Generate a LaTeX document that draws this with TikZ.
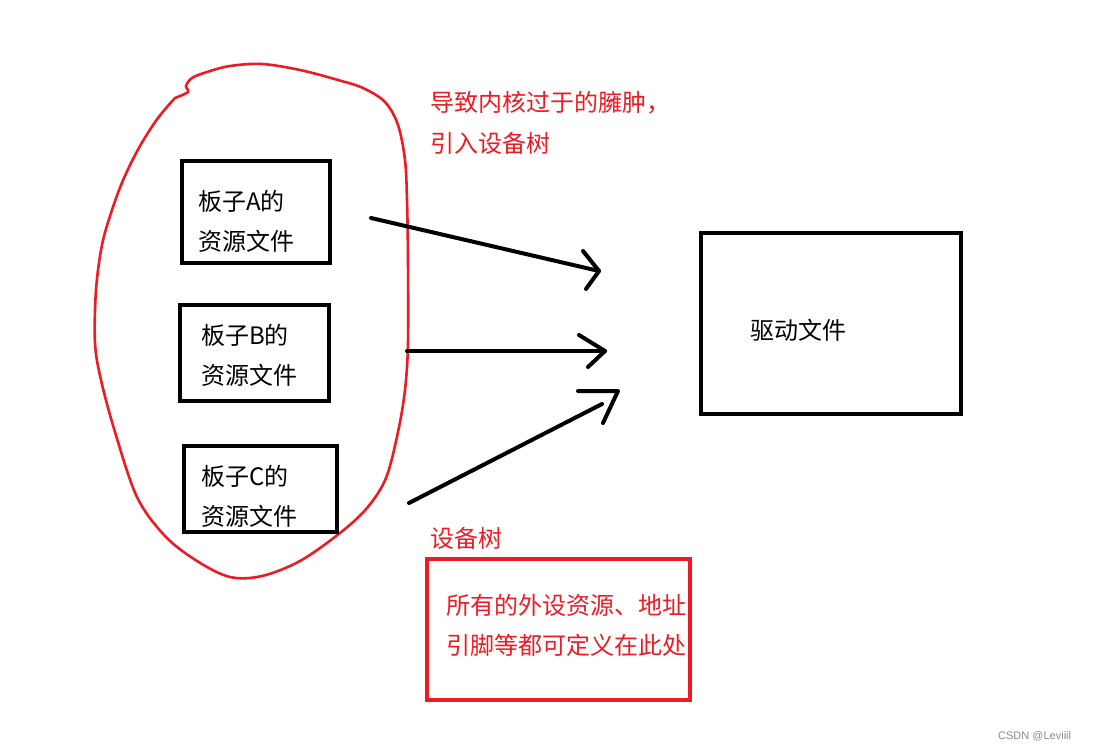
\documentclass[tikz,border=0pt]{standalone}
\usepackage{fontspec}
\usetikzlibrary{calc}
\setmainfont{Noto Sans CJK SC}
\newfontfamily\wmfont{Liberation Sans}
\definecolor{pred}{HTML}{ED1C24}
\definecolor{wmgrey}{HTML}{8A8A8A}
\begin{document}
\begin{tikzpicture}[x=1pt,y=-1pt,
  blkbox/.style={draw=black,line width=4pt},
  redbox/.style={draw=pred,line width=4.5pt},
  bodytxt/.style={anchor=west,inner sep=0pt,font=\fontsize{24}{29}\selectfont},
  redtxt/.style={bodytxt,text=pred},
  pen/.style={line width=4pt,line cap=round,line join=round},
  loopline/.style={draw=pred,line width=2.6pt,line cap=round,line join=round}]
\useasboundingbox[fill=white] (0,0) rectangle (1093,749);

% red freehand loop
\draw[loopline] plot[smooth,tension=0.55] coordinates {(175,98) (188,92) (186,86) (192,78) (207,72) (230,66) (262,64) (300,70) (338,80) (363,88) (385,102) (398,125) (405,160) (407,200) (408,260) (408,343) (405,390) (398,432) (386,478) (367,508) (340,533) (300,561) (262,576) (230,577) (197,561) (165,536) (137,497) (115,432) (101,380) (95,343) (96,290) (102,245) (112,210) (124,178) (140,146) (158,118) (175,98)};

% source boxes
\node[blkbox,minimum width=148pt,minimum height=101pt,inner sep=0pt] (boxA) at (256,212) {};
\node[blkbox,minimum width=149pt,minimum height=96pt,inner sep=0pt] (boxB) at (254.5,353) {};
\node[blkbox,minimum width=153pt,minimum height=86pt,inner sep=0pt] (boxC) at (260.5,489) {};
\node[bodytxt] (a1) at (198,201) {板子A的};
\node[bodytxt] (a2) at (198,241) {资源文件};
\node[bodytxt] (b1) at (201,335) {板子B的};
\node[bodytxt] (b2) at (201,375) {资源文件};
\node[bodytxt] (c1) at (201,476) {板子C的};
\node[bodytxt] (c2) at (201,516) {资源文件};

% driver box
\node[blkbox,minimum width=260pt,minimum height=181pt,inner sep=0pt] (drv) at (830.5,323.5) {};
\node[bodytxt] (drvt) at (750,330) {驱动文件};

% red notes
\node[redtxt] (note1) at (430,103) {导致内核过于的臃肿，};
\node[redtxt] (note2) at (430,143) {引入设备树};
\node[redtxt] (dtt) at (430,538) {设备树};
\node[redbox,minimum width=263pt,minimum height=141pt,inner sep=0pt] (dtbox) at (558.5,629.5) {};
\node[redtxt] (dt1) at (446,605) {所有的外设资源、地址};
\node[redtxt] (dt2) at (446,645) {引脚等都可定义在此处};

% arrows (hand drawn)
\coordinate (s1) at (371,218); \coordinate (t1) at (599,271);
\coordinate (s2) at (407,351); \coordinate (t2) at (605,351);
\coordinate (s3) at (409,503); \coordinate (t3) at (602,404);
\draw[pen] (s1) -- (t1);
\draw[pen] ($(t1)+(-16,-20)$) -- (t1) -- ($(t1)+(-13,18)$);
\draw[pen] (s2) -- (t2);
\draw[pen] ($(t2)+(-26,-16)$) -- (t2) -- ($(t2)+(-17,16)$);
\draw[pen] (s3) -- (t3);
\draw[pen] ($(t3)+(-24,-13)$) -- ($(t3)+(16,-13)$) -- ($(t3)+(1,19)$);

% watermark
\node[anchor=west,inner sep=0pt,text=wmgrey,font=\wmfont\fontsize{11}{13}\selectfont] (wm) at (998,736) {CSDN @Leviiil};
\end{tikzpicture}
\end{document}
